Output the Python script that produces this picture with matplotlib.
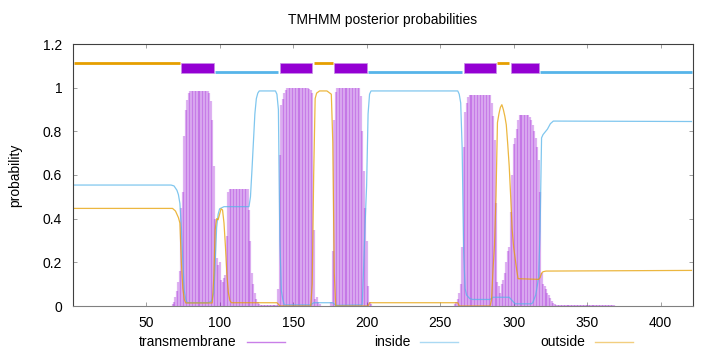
import numpy as np
import matplotlib.pyplot as plt
from matplotlib.lines import Line2D

plt.rcParams['font.family'] = ['Liberation Sans', 'DejaVu Sans']

# transmembrane posterior, one value per residue, in runs
tm1_start = 68
tm1 = [0.01, 0.02, 0.04, 0.07, 0.11, 0.16, 0.45, 0.52, 0.78, 0.90, 0.945, 0.975, 0.983,
       0.985, 0.985, 0.985, 0.985, 0.985, 0.985, 0.985, 0.985, 0.985, 0.985, 0.985,
       0.983, 0.975, 0.94, 0.85, 0.64, 0.40, 0.22, 0.19, 0.20, 0.12, 0.11, 0.13, 0.14, 0.32, 0.52,
       0.535, 0.535, 0.535, 0.535, 0.535, 0.535, 0.535, 0.535, 0.535, 0.535, 0.535, 0.535, 0.535,
       0.44, 0.30, 0.15, 0.10, 0.06, 0.03, 0.02, 0.01,
       0.005, 0.005, 0.005, 0.005, 0.005, 0.005, 0.005, 0.005, 0.005, 0.005, 0.005, 0.005]
tm2_start = 140
tm2 = [0.08, 0.69, 0.92, 0.95, 0.976, 0.99,
       0.998, 0.998, 0.998, 0.998, 0.998, 0.998, 0.998, 0.998, 0.998, 0.998, 0.998, 0.998,
       0.998, 0.998, 0.998,
       0.995, 0.99, 0.975, 0.35, 0.03, 0.04, 0.02, 0.01]
tm3_start = 176
tm3 = [0.02, 0.25, 0.85, 0.98,
       0.998, 0.998, 0.998, 0.998, 0.998, 0.998, 0.998, 0.998, 0.998, 0.998, 0.998, 0.998,
       0.998, 0.998, 0.998, 0.998,
       0.96, 0.80, 0.62, 0.45, 0.30, 0.09, 0.02, 0.01]
tm4_start = 260
tm4 = [0.01, 0.02, 0.03, 0.06, 0.10, 0.27, 0.73, 0.89, 0.93, 0.955,
       0.968, 0.968, 0.968, 0.968, 0.968, 0.968, 0.968, 0.968, 0.968, 0.968, 0.968, 0.968,
       0.968, 0.968, 0.968,
       0.93, 0.87, 0.76, 0.47, 0.11, 0.09, 0.06, 0.10, 0.12, 0.15, 0.20, 0.25,
       0.27, 0.43, 0.60, 0.74, 0.77, 0.81, 0.85,
       0.875, 0.875, 0.875, 0.875, 0.875, 0.875, 0.875,
       0.865, 0.85, 0.83, 0.80, 0.77, 0.73, 0.67, 0.52, 0.15, 0.10, 0.09, 0.08, 0.06, 0.05,
       0.035, 0.025, 0.015, 0.01,
       0.004, 0.004, 0.004, 0.004, 0.004, 0.004, 0.004, 0.004, 0.004, 0.004,
       0.004, 0.004, 0.004, 0.004, 0.004, 0.004, 0.004, 0.004, 0.004, 0.004,
       0.004, 0.004, 0.004, 0.004, 0.004, 0.004, 0.004, 0.004, 0.004, 0.004,
       0.004, 0.004, 0.004, 0.004, 0.004, 0.004, 0.004, 0.004, 0.004, 0.004]

# inside / outside curves (residue, probability)
in_res = [1, 67, 69, 71, 72, 73, 74, 75, 76, 77, 78, 92, 94, 95, 96, 97, 98, 99, 100, 103,
          120, 121, 122, 123, 124, 125, 126, 127, 138, 139, 140, 141, 142, 143, 144, 162,
          164, 177, 179, 197, 198, 199, 200, 201, 202, 203, 262, 263, 264, 265, 266, 267,
          268, 270, 272, 284, 286, 297, 299, 301, 312, 313, 315, 317, 318, 319, 320, 323,
          325, 327, 421]
in_prob = [0.554, 0.554, 0.55, 0.53, 0.51, 0.47, 0.36, 0.20, 0.07, 0.03, 0.015, 0.015, 0.02,
           0.03, 0.06, 0.20, 0.36, 0.42, 0.445, 0.455,
           0.455, 0.50, 0.62, 0.75, 0.88, 0.95, 0.975, 0.985, 0.985, 0.97, 0.90, 0.30, 0.07,
           0.03, 0.005, 0.005,
           0.015, 0.015, 0.003, 0.005, 0.18, 0.38, 0.55, 0.88, 0.97, 0.985, 0.985, 0.97, 0.93,
           0.72, 0.25, 0.08,
           0.05, 0.035, 0.03, 0.03, 0.04, 0.04, 0.025, 0.01, 0.01, 0.015, 0.05, 0.13, 0.35,
           0.77, 0.785, 0.81,
           0.835, 0.847, 0.845]

out_res = [1, 68, 70, 72, 73, 74, 75, 76, 77, 95, 96, 97, 98, 99, 100, 101, 102, 103, 104,
           105, 106, 107, 108, 139, 140, 141, 162, 163, 164, 165, 166, 168, 173, 176, 177,
           178, 179, 201, 202, 262, 263, 284, 285, 286, 287, 288, 289, 290, 291, 292, 293,
           294, 295, 296, 297, 298, 299, 300, 301, 302, 303, 317, 318, 319, 320, 322, 421]
out_prob = [0.447, 0.447, 0.435, 0.405, 0.38, 0.20, 0.08, 0.03, 0.014, 0.014, 0.12, 0.35, 0.40,
            0.395, 0.42, 0.445, 0.44, 0.38, 0.27,
            0.14, 0.06, 0.025, 0.015, 0.015, 0.008, 0.0, 0.0, 0.10, 0.60, 0.95, 0.975, 0.985,
            0.985, 0.97, 0.75,
            0.15, 0.0, 0.0, 0.015, 0.015, 0.0, 0.0, 0.03, 0.17, 0.28, 0.50, 0.84, 0.88, 0.91,
            0.922, 0.90,
            0.87, 0.83, 0.74, 0.64, 0.50, 0.35, 0.27, 0.22, 0.17, 0.125, 0.122, 0.13, 0.15,
            0.157, 0.16, 0.163]

# predicted topology segments
out_seg_start = [1, 164, 289]
out_seg_end = [73, 177, 297]
tm_seg_start = [74, 141, 178, 266, 298]
tm_seg_end = [96, 163, 200, 288, 317]
in_seg_start = [97, 201, 318]
in_seg_end = [140, 265, 421]

C_TM = '#9400d3'
C_IN = '#56b4e9'
C_OUT = '#e69f00'

fig = plt.figure(figsize=(7.2, 3.52), dpi=100)
ax = fig.add_axes([73.3 / 720, 1 - 306 / 352, (692.7 - 73.3) / 720, (306 - 44) / 352])

tm_res = np.concatenate([np.arange(s, s + len(v)) for s, v in
                         [(tm1_start, tm1), (tm2_start, tm2), (tm3_start, tm3), (tm4_start, tm4)]])
tm_prob = np.concatenate([tm1, tm2, tm3, tm4])
ax.vlines(tm_res, 0, tm_prob, color=C_TM, alpha=0.3, lw=1.6, capstyle='butt')

ax.plot(in_res, in_prob, color=C_IN, lw=0.9, alpha=0.75)
ax.plot(out_res, out_prob, color=C_OUT, lw=0.9, alpha=0.75)

ax.hlines([1.111] * len(out_seg_start), out_seg_start, out_seg_end, color=C_OUT, lw=2, capstyle='butt')
ax.hlines([1.072] * len(in_seg_start), in_seg_start, in_seg_end, color=C_IN, lw=2, capstyle='butt')
ax.broken_barh([(s, e - s) for s, e in zip(tm_seg_start, tm_seg_end)], (1.067, 0.047),
               facecolor=C_TM, edgecolor='#c890e8', lw=0.5)

ax.set_xlim(0.5, 421.8)
ax.set_ylim(0, 1.2)
ax.set_xticks([50, 100, 150, 200, 250, 300, 350, 400])
ax.set_yticks([0, 0.2, 0.4, 0.6, 0.8, 1.0, 1.2])
ax.set_yticklabels(['0', '0.2', '0.4', '0.6', '0.8', '1', '1.2'])
ax.tick_params(direction='in', length=3, width=0.6, color='#909090', labelsize=10,
               top=True, right=True, pad=7)
ax.tick_params(axis='y', pad=8)
for sp in ax.spines.values():
    sp.set_color('#404040')
    sp.set_linewidth(0.8)
ax.spines['bottom'].set_color('#808080')

fig.text(383 / 720, 1 - 20 / 352, 'TMHMM posterior probabilities', ha='center', va='center', fontsize=10)
fig.text(15 / 720, 1 - 175 / 352, 'probability', rotation=90, ha='center', va='center', fontsize=10)

# key below the plot
key_labels = ['transmembrane', 'inside', 'outside']
key_colors = [C_TM, C_IN, C_OUT]
key_x0 = [246.6, 420.4, 594.9]
ky = 1 - 342 / 352
for lab, col, x0 in zip(key_labels, key_colors, key_x0):
    fig.text((x0 - 10) / 720, ky, lab, ha='right', va='center', fontsize=10)
    fig.add_artist(Line2D([x0 / 720, (x0 + 38) / 720], [ky, ky], color=col, alpha=0.5, lw=1))

fig.savefig('out.png', dpi=100)
